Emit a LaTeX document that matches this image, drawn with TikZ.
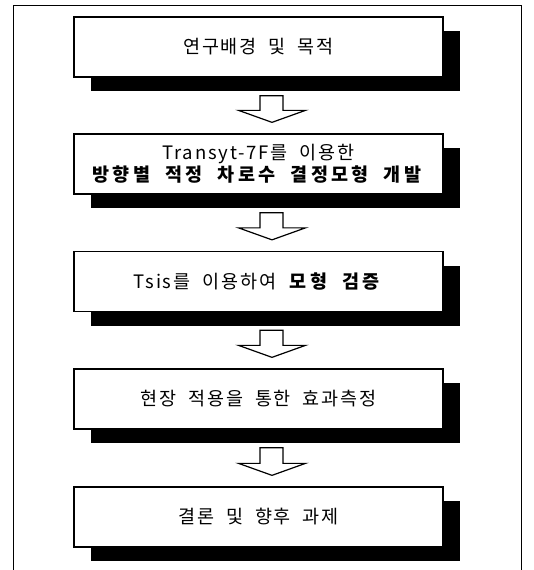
\documentclass[tikz,border=0pt]{standalone}
\usepackage{fontspec}
\setmainfont[LetterSpace=10, WordSpace=2, BoldFeatures={LetterSpace=18, WordSpace=2}]{Noto Sans CJK KR}
\usetikzlibrary{calc,shadows}
\tikzset{
  stepbox/.style={draw, line width=1.3pt, fill=white, minimum width=369pt,
    minimum height=60pt, inner sep=0pt, align=center,
    font=\fontsize{18.5}{22}\selectfont,
    drop shadow={fill=black, opacity=1, shadow xshift=17pt, shadow yshift=-14pt}},
  blockarrow/.style={draw, line width=1.2pt, fill=white, line join=miter},
  framebox/.style={draw, line width=0.8pt}
}
\newcommand\blockarr[2]{%
  \draw[blockarrow] ($(#1.south)+(1.5,18)$) -- ($(#2.north)+(1.5,-23)$)
    -- ($(#2.north)+(-20,-23)$) -- ($(#2.north)+(13.5,-11)$)
    -- ($(#2.north)+(47,-23)$) -- ($(#2.north)+(24.5,-23)$)
    -- ($(#1.south)+(24.5,18)$) -- cycle;}
\begin{document}
\begin{tikzpicture}[x=1pt,y=-1pt]
\useasboundingbox (0,0) rectangle (534,570);
\draw[framebox] (13,570) -- (13,5) -- (521,5) -- (521,570);
\node[stepbox] (b1) at (258.5,47) {연구배경 및 목적};
\node[stepbox] (b2) at (258.5,164) {Transyt-7F를 이용한\\\textbf{방향별 적정 차로수 결정모형 개발}};
\node[stepbox] (b3) at (258.5,281.5) {Tsis를 이용하여 \textbf{모형 검증}};
\node[stepbox] (b4) at (258.5,399) {현장 적용을 통한 효과측정};
\node[stepbox] (b5) at (258.5,517) {결론 및 향후 과제};
\blockarr{b1}{b2}
\blockarr{b2}{b3}
\blockarr{b3}{b4}
\blockarr{b4}{b5}
\end{tikzpicture}
\end{document}
